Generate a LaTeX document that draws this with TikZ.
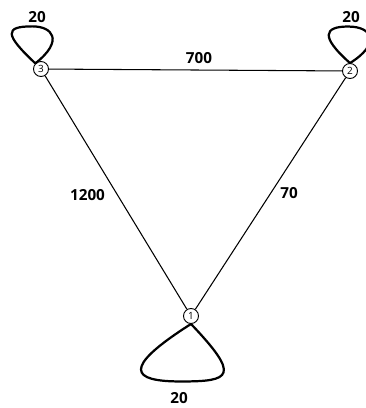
\documentclass[tikz,border=0pt]{standalone}
\usepackage{fontspec}
\setmainfont{Open Sans}
\begin{document}
\begin{tikzpicture}[x=0.03cm,y=-0.03cm,
    vertex/.style={draw,circle,line width=0.8pt,inner sep=0pt,minimum size=0.45cm,
      font=\fontsize{8.5}{8.5}\selectfont},
    weight/.style={font=\bfseries\fontsize{13}{13}\selectfont},
    selfloop/.style={line width=1.9pt,line join=round}]
    \useasboundingbox (0,0) rectangle (366,408);

    % Vertices
    \node[vertex] (v1) at (191,316) {1};
    \node[vertex] (v2) at (350,71) {2};
    \node[vertex] (v3) at (41,69) {3};

    % Edges
    \draw[line width=0.9pt] (v3) -- (v2);
    \draw[line width=0.9pt] (v3) -- (v1);
    \draw[line width=0.9pt] (v2) -- (v1);

    % Self-loops (teardrops from the rim of the vertex)
    \draw[selfloop] (v3.north west) .. controls +(-31,-29) and +(-28,0) .. ++(-3,-37)
                    .. controls +(20,0) and +(29,-23) .. (v3.north west);
    \draw[selfloop] (v2.north) .. controls +(-30,-26.5) and +(-24,0) .. ++(-2,-36.5)
                    .. controls +(26,0) and +(30,-18.5) .. (v2.north);
    \draw[selfloop] (v1.south) .. controls +(-70,44.5) and +(-50,0) .. ++(-10,57.5)
                    .. controls +(50,0) and +(50,52.5) .. (v1.south);

    % Weights
    \node[weight] (w32) at (199,58) {700};
    \node[weight] (w31) at (87.5,195) {1200};
    \node[weight] (w21) at (289,193) {70};
    \node[weight] (w33) at (37,17.5) {20};
    \node[weight] (w22) at (351,17.5) {20};
    \node[weight] (w11) at (179,398) {20};
\end{tikzpicture}
\end{document}
